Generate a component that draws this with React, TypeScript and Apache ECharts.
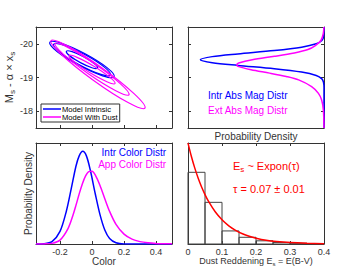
import React, { useEffect, useRef } from "react";
import * as echarts from "echarts";

// ---------- data ----------
// contour ellipses: [tip1 color, tip1 mag, tip2 color, tip2 mag, minor/major ratio]
const intrinsicContours = [
  [-0.264, -20.047, 0.139, -19.021, 0.18],
  [-0.24, -19.985, 0.115, -19.075, 0.18],
  [-0.16, -19.78, 0.035, -19.28, 0.19],
];
const dustContours = [
  [-0.256, -20.098, 0.331, -18.089, 0.13],
  [-0.231, -20.009, 0.231, -18.487, 0.13],
  [-0.144, -19.653, 0.144, -18.822, 0.14],
];

// absolute magnitude distributions (top right)
const intrMag = [-20.5, -20.2, -20.1, -20.0, -19.9, -19.8, -19.7, -19.62, -19.53, -19.44, -19.36, -19.26, -19.16, -19.06, -18.96, -18.86, -18.7, -17.5];
const intrMagDensity = [0, 0.004, 0.017, 0.063, 0.181, 0.402, 0.697, 0.904, 1.0, 0.904, 0.697, 0.402, 0.181, 0.063, 0.017, 0.004, 0.0, 0];
const extMag = [-20.5, -20.3, -20.1, -19.95, -19.83, -19.73, -19.63, -19.53, -19.43, -19.38, -19.33, -19.23, -19.13, -19.03, -18.93, -18.73, -18.53, -18.33, -18.03, -17.5];
const extMagDensity = [0.001, 0.006, 0.025, 0.07, 0.13, 0.24, 0.4, 0.58, 0.69, 0.705, 0.695, 0.59, 0.44, 0.305, 0.205, 0.1, 0.045, 0.019, 0.005, 0];

// colour distributions (bottom left)
const intrColor = [-0.35, -0.3, -0.25, -0.2, -0.16, -0.13, -0.1, -0.08, -0.058, -0.035, -0.01, 0.02, 0.05, 0.08, 0.11, 0.15, 0.2, 0.5];
const intrColorDensity = [0, 0.003, 0.026, 0.137, 0.36, 0.6, 0.85, 0.96, 1.01, 0.96, 0.8, 0.55, 0.32, 0.153, 0.061, 0.014, 0.001, 0];
const appColor = [-0.35, -0.3, -0.25, -0.2, -0.15, -0.12, -0.1, -0.08, -0.06, -0.04, -0.02, 0, 0.02, 0.05, 0.08, 0.11, 0.15, 0.2, 0.25, 0.3, 0.35, 0.4, 0.45, 0.5];
const appColorDensity = [0, 0.001, 0.007, 0.042, 0.167, 0.307, 0.423, 0.546, 0.657, 0.742, 0.788, 0.791, 0.752, 0.637, 0.493, 0.355, 0.214, 0.107, 0.053, 0.026, 0.013, 0.006, 0.003, 0.0015];

// dust reddening (bottom right)
const histEdges = [0, 0.05, 0.1, 0.15, 0.2, 0.25, 0.3, 0.35, 0.4];
const histHeights = [10.15, 5.9, 1.85, 0.95, 0.45, 0.22, 0.1, 0.05];
const exponX = [0, 0.01, 0.02, 0.03, 0.04, 0.05, 0.06, 0.08, 0.1, 0.12, 0.14, 0.16, 0.18, 0.2, 0.23, 0.26, 0.3, 0.35, 0.4];
const exponY = [14.29, 12.39, 10.74, 9.31, 8.07, 7.0, 6.06, 4.56, 3.43, 2.57, 1.93, 1.45, 1.09, 0.82, 0.53, 0.35, 0.2, 0.1, 0.05];

// ticks
const colorTicks = [-0.2, 0, 0.2, 0.4];
const magTicks = [-20, -19, -18];
const dustTicks = [0, 0.1, 0.2, 0.3, 0.4];

// ---------- styling ----------
const FONT = '"Liberation Sans", Arial, Helvetica, sans-serif';
const AX = "#333";
const BLUE = "#0000ff";
const MAG = "#ff00ff";
const RED = "#ff0000";

function xAx(grid: number, pos: string, min: number, max: number, o: any = {}) {
  return {
    type: "value",
    gridIndex: grid,
    position: pos,
    min,
    max,
    inverse: !!o.inverse,
    axisLine: { show: true, onZero: false, lineStyle: { color: AX, width: 1 } },
    axisTick: o.ticks
      ? { show: true, inside: true, length: 3, customValues: o.ticks, lineStyle: { color: AX, width: 1 } }
      : { show: false },
    axisLabel: o.labels
      ? { show: true, customValues: o.labels, fontSize: 9, color: AX, margin: 3, fontFamily: FONT }
      : { show: false },
    splitLine: { show: false },
    name: o.name,
    nameLocation: "middle",
    nameGap: o.nameGap,
    nameTextStyle: o.nameTextStyle,
  };
}
function yAx(grid: number, pos: string, min: number, max: number, o: any = {}) {
  return {
    type: "value",
    gridIndex: grid,
    position: pos,
    min,
    max,
    inverse: !!o.inverse,
    axisLine: { show: true, onZero: false, lineStyle: { color: AX, width: 1 } },
    axisTick: o.ticks
      ? { show: true, inside: true, length: 3, customValues: o.ticks, lineStyle: { color: AX, width: 1 } }
      : { show: false },
    axisLabel: o.labels
      ? { show: true, customValues: o.labels, fontSize: 9, color: AX, margin: 3, fontFamily: FONT }
      : { show: false },
    splitLine: { show: false },
    name: o.name,
    nameLocation: "middle",
    nameGap: o.nameGap,
    nameRotate: o.name ? 90 : undefined,
    nameTextStyle: o.nameTextStyle,
  };
}

function ellipseRenderer(color: string) {
  return (params: any, api: any) => {
    const p1 = api.coord([api.value(0), api.value(1)]);
    const p2 = api.coord([api.value(2), api.value(3)]);
    const cx = (p1[0] + p2[0]) / 2;
    const cy = (p1[1] + p2[1]) / 2;
    const dx = p2[0] - p1[0];
    const dy = p2[1] - p1[1];
    const a = Math.sqrt(dx * dx + dy * dy) / 2;
    const b = a * api.value(4);
    return {
      type: "ellipse",
      x: cx,
      y: cy,
      rotation: -Math.atan2(dy, dx),
      shape: { cx: 0, cy: 0, rx: a, ry: b },
      style: { fill: "none", stroke: color, lineWidth: 1.2 },
    };
  };
}

function histRenderer(params: any, api: any) {
  const p0 = api.coord([api.value(0), api.value(2)]);
  const p1 = api.coord([api.value(1), 0]);
  return {
    type: "rect",
    shape: { x: p0[0], y: p0[1], width: p1[0] - p0[0], height: p1[1] - p0[1] },
    style: { fill: "none", stroke: "#444", lineWidth: 1 },
  };
}

const zip = (a: number[], b: number[]) => a.map((v, i) => [v, b[i]]);

export default function App() {
  const ref = useRef<HTMLDivElement>(null);
  useEffect(() => {
    if (!ref.current) return;
    const chart = echarts.init(ref.current, undefined, { renderer: "svg" });
    const subRich = (size: number, lh: number, color: string) => ({
      m: { fontSize: size, lineHeight: lh, color, fontFamily: FONT },
      s: { fontSize: Math.round(size * 0.7), lineHeight: Math.round(size * 0.7), verticalAlign: "bottom", color, fontFamily: FONT },
    });
    const subRichFill = (size: number, lh: number, color: string) => ({
      m: { fontSize: size, lineHeight: lh, fill: color, fontFamily: FONT },
      s: { fontSize: Math.round(size * 0.7), lineHeight: Math.round(size * 0.7), verticalAlign: "bottom", fill: color, fontFamily: FONT },
    });
    const option: any = {
      animation: false,
      backgroundColor: "#fff",
      textStyle: { fontFamily: FONT },
      grid: [
        { left: 36, top: 27, width: 136, height: 101, outerBoundsMode: "none" },
        { left: 188, top: 27, width: 136, height: 101, outerBoundsMode: "none" },
        { left: 36, top: 143, width: 136, height: 101, outerBoundsMode: "none" },
        { left: 188, top: 143, width: 136, height: 101, outerBoundsMode: "none" },
      ],
      legend: {
        orient: "vertical",
        left: 41,
        top: 104,
        icon: "rect",
        itemWidth: 18,
        itemHeight: 1.5,
        itemGap: 0,
        padding: [1, 2, 1, 2],
        backgroundColor: "#fff",
        borderColor: AX,
        borderWidth: 1,
        borderRadius: 0,
        textStyle: { fontSize: 7.6, color: "#000", lineHeight: 8, padding: [0, 0, 0, -4], fontFamily: FONT },
        data: [
          { name: "Model Intrinsic", itemStyle: { color: BLUE } },
          { name: "Model With Dust", itemStyle: { color: MAG } },
        ],
      },
      xAxis: [
        xAx(0, "bottom", -0.35, 0.5, { ticks: colorTicks }),
        xAx(0, "top", -0.35, 0.5, { ticks: colorTicks }),
        xAx(1, "bottom", 0, 1.1, {
          inverse: true,
          name: "Probability Density",
          nameGap: 3,
          nameTextStyle: { fontSize: 10, color: AX, fontFamily: FONT },
        }),
        xAx(1, "top", 0, 1.1, { inverse: true }),
        xAx(2, "bottom", -0.35, 0.5, {
          ticks: colorTicks,
          labels: colorTicks,
          name: "Color",
          nameGap: 10,
          nameTextStyle: { fontSize: 10, color: AX, fontFamily: FONT },
        }),
        xAx(2, "top", -0.35, 0.5, { ticks: colorTicks }),
        xAx(3, "bottom", 0, 0.4, {
          ticks: dustTicks,
          labels: dustTicks,
          name: "{m|Dust Reddening E}{s|s}{m| = E(B-V)}",
          nameGap: 10,
          nameTextStyle: { rich: subRich(9, 12, AX) },
        }),
        xAx(3, "top", 0, 0.4, { ticks: dustTicks }),
      ],
      yAxis: [
        yAx(0, "left", -20.5, -17.5, {
          inverse: true,
          ticks: magTicks,
          labels: magTicks,
          name: "{m|M}{s|s}{m| - α × x}{s|s}",
          nameGap: 15,
          nameTextStyle: { rich: subRich(11, 15, AX) },
        }),
        yAx(0, "right", -20.5, -17.5, { inverse: true, ticks: magTicks }),
        yAx(1, "left", -20.5, -17.5, { inverse: true, ticks: magTicks }),
        yAx(1, "right", -20.5, -17.5, { inverse: true, ticks: magTicks }),
        yAx(2, "left", 0, 1.1, {
          name: "Probability Density",
          nameGap: 3,
          nameTextStyle: { fontSize: 10, color: AX, fontFamily: FONT },
        }),
        yAx(2, "right", 0, 1.1, {}),
        yAx(3, "left", 0, 14.3, {}),
        yAx(3, "right", 0, 14.3, {}),
      ],
      graphic: [
        { type: "text", x: 208, y: 95, style: { text: "Intr Abs Mag Distr", fill: BLUE, fontSize: 10, fontFamily: FONT, verticalAlign: "middle" } },
        { type: "text", x: 208, y: 110.5, style: { text: "Ext Abs Mag Distr", fill: MAG, fontSize: 10, fontFamily: FONT, verticalAlign: "middle" } },
        { type: "text", x: 166, y: 152.5, style: { text: "Intr Color Distr", fill: BLUE, fontSize: 10, fontFamily: FONT, align: "right", verticalAlign: "middle" } },
        { type: "text", x: 166, y: 164.5, style: { text: "App Color Distr", fill: MAG, fontSize: 10, fontFamily: FONT, align: "right", verticalAlign: "middle" } },
        {
          type: "text",
          x: 233,
          y: 166,
          style: { text: "{m|E}{s|s}{m| ~ Expon(τ)}", fill: RED, rich: subRichFill(11, 15, RED), verticalAlign: "middle" },
        },
        { type: "text", x: 233, y: 188.5, style: { text: "τ = 0.07 ± 0.01", fill: RED, fontSize: 11, fontFamily: FONT, verticalAlign: "middle" } },
      ],
      series: [
        {
          type: "custom",
          name: "Model Intrinsic",
          xAxisIndex: 0,
          yAxisIndex: 0,
          itemStyle: { color: BLUE },
          encode: { x: [0, 2], y: [1, 3] },
          renderItem: ellipseRenderer(BLUE),
          data: intrinsicContours,
          clip: true,
        },
        {
          type: "custom",
          name: "Model With Dust",
          xAxisIndex: 0,
          yAxisIndex: 0,
          itemStyle: { color: MAG },
          encode: { x: [0, 2], y: [1, 3] },
          renderItem: ellipseRenderer(MAG),
          data: dustContours,
          clip: true,
        },
        {
          type: "line",
          name: "Intr Abs Mag Distr",
          xAxisIndex: 2,
          yAxisIndex: 2,
          data: zip(intrMagDensity, intrMag),
          showSymbol: false,
          smooth: 0.3,
          lineStyle: { color: BLUE, width: 1.5 },
          itemStyle: { color: BLUE },
        },
        {
          type: "line",
          name: "Ext Abs Mag Distr",
          xAxisIndex: 2,
          yAxisIndex: 2,
          data: zip(extMagDensity, extMag),
          showSymbol: false,
          smooth: 0.3,
          lineStyle: { color: MAG, width: 1.5 },
          itemStyle: { color: MAG },
        },
        {
          type: "line",
          name: "Intr Color Distr",
          xAxisIndex: 4,
          yAxisIndex: 4,
          data: zip(intrColor, intrColorDensity),
          showSymbol: false,
          smooth: 0.3,
          lineStyle: { color: BLUE, width: 1.5 },
          itemStyle: { color: BLUE },
        },
        {
          type: "line",
          name: "App Color Distr",
          xAxisIndex: 4,
          yAxisIndex: 4,
          data: zip(appColor, appColorDensity),
          showSymbol: false,
          smooth: 0.3,
          lineStyle: { color: MAG, width: 1.5 },
          itemStyle: { color: MAG },
        },
        {
          type: "custom",
          name: "Dust histogram",
          xAxisIndex: 6,
          yAxisIndex: 6,
          encode: { x: [0, 1], y: 2 },
          renderItem: histRenderer,
          data: histHeights.map((h, i) => [histEdges[i], histEdges[i + 1], h]),
        },
        {
          type: "line",
          name: "Expon fit",
          xAxisIndex: 6,
          yAxisIndex: 6,
          data: zip(exponX, exponY),
          showSymbol: false,
          smooth: 0.3,
          lineStyle: { color: RED, width: 1.5 },
          itemStyle: { color: RED },
        },
      ],
    };
    chart.setOption(option);
    return () => chart.dispose();
  }, []);
  return (
    <div
      ref={ref}
      style={{ position: "fixed", left: 0, top: 0, width: 360, height: 271, background: "#fff" }}
    />
  );
}
